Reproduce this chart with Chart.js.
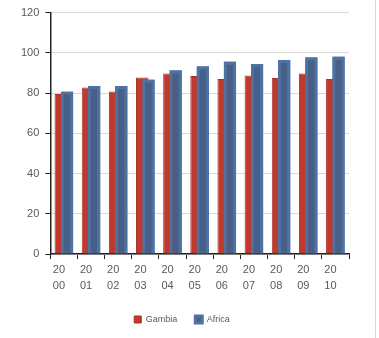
<!DOCTYPE html>
<html>
<head>
<meta charset="utf-8">
<script src="https://cdn.jsdelivr.net/npm/chart.js@4"></script>
<style>
  html, body { margin: 0; padding: 0; background: #fff; }
  #wrap { width: 375px; height: 338px; border-right: 1px solid #d9d9d9; }
</style>
</head>
<body>
<div id="wrap"><canvas id="chart" width="375" height="338"></canvas></div>
<script>
// --- Data ---
const years = ["2000", "2001", "2002", "2003", "2004", "2005", "2006", "2007", "2008", "2009", "2010"];
const gambia = [79.5, 82.8, 80.8, 87.7, 89.7, 88.5, 87, 88.7, 87.5, 89.7, 87];
const africa = [80.8, 83.5, 83.5, 86.7, 91.3, 93.3, 95.7, 94.5, 96.5, 97.8, 98.2];
const yTicks = [0, 20, 40, 60, 80, 100, 120];

const textColor = "#595959";
const ctx = document.getElementById("chart").getContext("2d");

// Africa bars sit on top of the Gambia ones in the original, redraw them last
const africaOnTop = {
    id: "africaOnTop",
    afterDatasetsDraw(chart) {
        const meta = chart.getDatasetMeta(1);
        if (!meta.hidden) meta.controller.draw();
    },
};

new Chart(ctx, {
    type: "bar",
    data: {
        labels: years,
        datasets: [
            {
                label: "Gambia",
                data: gambia,
                backgroundColor: "#c0392f",
                borderColor: "#a8302a",
                borderWidth: 1,
            },
            {
                label: "Africa",
                data: africa,
                backgroundColor: "#46608a",
                borderColor: "#5072a3",
                borderWidth: 3,
            },
        ],
    },
    options: {
        responsive: false,
        animation: false,
        barPercentage: 2.0,
        categoryPercentage: 0.46,
        layout: { padding: { top: 8, right: 26, left: 15, bottom: 4 } },
        plugins: {
            legend: {
                position: "bottom",
                labels: {
                    boxWidth: 7,
                    boxHeight: 7,
                    padding: 18,
                    color: textColor,
                    font: { family: "Liberation Sans", size: 9 },
                },
            },
            tooltip: { enabled: false },
        },
        scales: {
            x: {
                grid: {
                    offset: true,
                    color: (c) => (c.index === years.length ? "#d9d9d9" : "rgba(0,0,0,0)"),
                    tickColor: "#222",
                    tickLength: 5,
                },
                border: { color: "#222", width: 1.5 },
                ticks: {
                    color: textColor,
                    font: { family: "Liberation Sans", size: 11, lineHeight: 1.45 },
                    maxRotation: 0,
                    autoSkip: false,
                    labelOffset: -5,
                    padding: 3,
                    callback: (v, i) => [years[i].slice(0, 2), years[i].slice(2)],
                },
            },
            y: {
                min: 0,
                max: 120,
                afterBuildTicks: (axis) => {
                    axis.ticks = yTicks.map((v) => ({ value: v }));
                },
                grid: {
                    color: "#d9d9d9",
                    tickColor: "#222",
                    tickLength: 5,
                },
                border: { color: "#222", width: 1.5 },
                ticks: {
                    color: textColor,
                    font: { family: "Liberation Sans", size: 11 },
                    padding: 6,
                },
            },
        },
    },
    plugins: [africaOnTop],
});
</script>
</body>
</html>
